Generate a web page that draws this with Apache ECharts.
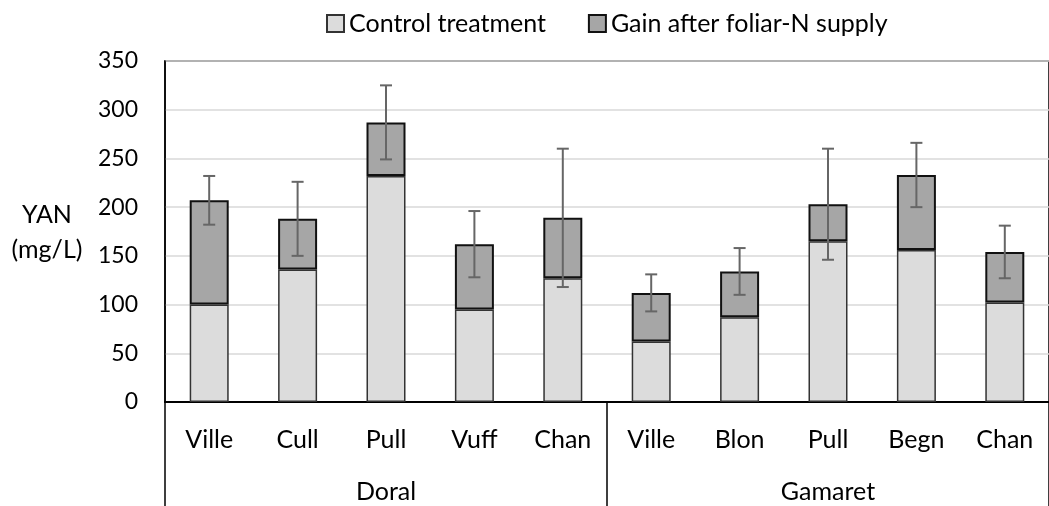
<!DOCTYPE html>
<html>
<head>
<meta charset="utf-8">
<script src="https://cdn.jsdelivr.net/npm/echarts@6/dist/echarts.min.js"></script>
<style>
  html, body { margin: 0; padding: 0; background: #fff; }
  #chart { width: 1049px; height: 506px; }
</style>
</head>
<body>
<div id="chart"></div>
<script>
// cultivars (x axis, first level) and groups (second level)
var categories = ['Ville', 'Cull', 'Pull', 'Vuff', 'Chan', 'Ville', 'Blon', 'Pull', 'Begn', 'Chan'];
var groups = ['Doral', 'Gamaret'];
// YAN values, mg/L
var control = [100, 136, 232, 95, 127, 62, 87, 165, 156, 102];
var gain = [107, 52, 55, 67, 62, 50, 47, 38, 77, 52];
var errBar = [25, 38, 38, 34, 71, 19, 24, 57, 33, 27];
var yTicks = [0, 50, 100, 150, 200, 250, 300, 350];

var FONT = 'Lato';
var chart = echarts.init(document.getElementById('chart'));

var errData = [];
for (var i = 0; i < categories.length; i++) {
    errData.push([i, control[i], gain[i], errBar[i]]);
}

var option = {
    animation: false,
    textStyle: { fontFamily: FONT },
    legend: {
        top: 6,
        left: 321,
        itemWidth: 17,
        itemHeight: 17,
        itemGap: 42,
        itemTextGap: 4,
        icon: 'rect',
        textStyle: { fontSize: 25, color: '#000', fontFamily: FONT },
        data: ['Control treatment', 'Gain after foliar-N supply']
    },
    grid: {
        left: 165, right: -9, top: 61, bottom: 104,
        show: true, borderColor: '#000', borderWidth: 1.5
    },
    graphic: [{
        type: 'text',
        x: 47, y: 197,
        style: {
            text: 'YAN\n(mg/L)', fontSize: 25, fontFamily: FONT, fill: '#000',
            align: 'center', lineHeight: 35
        }
    }],
    xAxis: [{
        type: 'category',
        data: categories,
        axisLine: { lineStyle: { color: '#000', width: 2 } },
        axisTick: { show: false },
        axisLabel: { color: '#000', fontSize: 25, margin: 25, interval: 0 }
    }, {
        type: 'category',
        data: groups,
        position: 'bottom',
        axisLine: { show: false },
        axisTick: { show: true, length: 104, lineStyle: { color: '#000', width: 1.5 } },
        axisLabel: { color: '#000', fontSize: 25, margin: 77 }
    }],
    yAxis: {
        type: 'value',
        min: 0, max: 350, interval: 50,
        axisLine: { show: true, lineStyle: { color: '#000', width: 1.5 } },
        axisTick: { show: false },
        axisLabel: {
            color: '#000', fontSize: 23, margin: 27,
            formatter: function (v) { return yTicks.indexOf(v) >= 0 ? String(v) : ''; }
        },
        splitLine: { lineStyle: { color: '#d9d9d9', width: 1.5 } }
    },
    series: [{
        name: 'Control treatment',
        type: 'bar',
        stack: 'yan',
        barWidth: 39,
        data: control,
        itemStyle: { color: '#dcdcdc', borderColor: '#333', borderWidth: 1.5 }
    }, {
        name: 'Gain after foliar-N supply',
        type: 'bar',
        stack: 'yan',
        barWidth: 39,
        data: gain,
        itemStyle: { color: '#a6a6a6', borderColor: '#111', borderWidth: 2 }
    }, {
        type: 'custom',
        name: 'err',
        data: errData,
        z: 10,
        renderItem: function (params, api) {
            var x = api.value(0);
            var top = api.value(1) + api.value(2);
            var e = api.value(3);
            var hi = api.coord([x, top + e]);
            var lo = api.coord([x, top - e]);
            var cap = 6;
            var st = { stroke: '#666', lineWidth: 2 };
            return {
                type: 'group',
                children: [
                    { type: 'line', shape: { x1: hi[0], y1: hi[1], x2: lo[0], y2: lo[1] }, style: st },
                    { type: 'line', shape: { x1: hi[0] - cap, y1: hi[1], x2: hi[0] + cap, y2: hi[1] }, style: st },
                    { type: 'line', shape: { x1: lo[0] - cap, y1: lo[1], x2: lo[0] + cap, y2: lo[1] }, style: st }
                ]
            };
        }
    }]
};

chart.setOption(option);
</script>
</body>
</html>
